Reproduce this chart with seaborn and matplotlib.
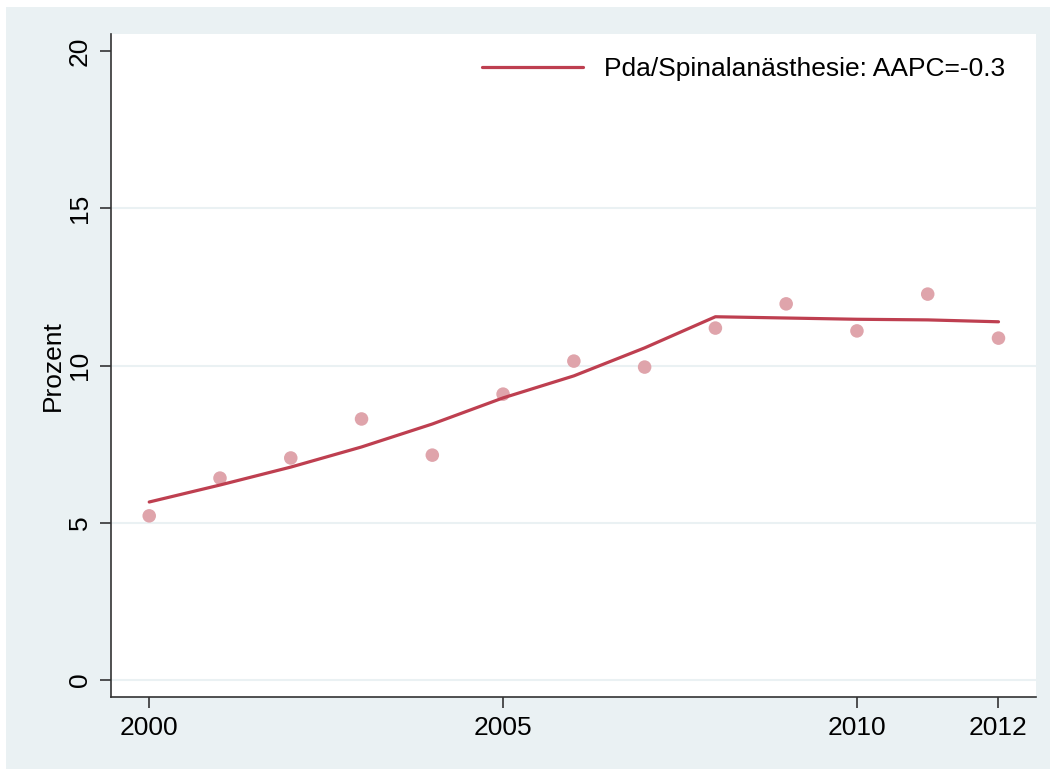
import numpy as np
import pandas as pd
import matplotlib
matplotlib.use("Agg")
import matplotlib.pyplot as plt
import seaborn as sns
from matplotlib.patches import Rectangle

sns.set_style("white")
plt.rcParams['font.family'] = ['Liberation Sans', 'DejaVu Sans']
plt.rcParams['text.color'] = 'black'
plt.rcParams['axes.labelcolor'] = 'black'
plt.rcParams['xtick.color'] = 'black'
plt.rcParams['ytick.color'] = 'black'

# Data
years = [2000, 2001, 2002, 2003, 2004, 2005, 2006, 2007, 2008, 2009, 2010, 2011, 2012]
observed = [5.22, 6.42, 7.06, 8.30, 7.15, 9.09, 10.14, 9.95, 11.19, 11.96, 11.10, 12.27, 10.87]
fitted = [5.66, 6.20, 6.77, 7.41, 8.14, 8.97, 9.67, 10.56, 11.55, 11.51, 11.47, 11.45, 11.39]
legend_label = "Pda/Spinalanästhesie: AAPC=-0.3"

df = pd.DataFrame({'year': years, 'observed': observed, 'fitted': fitted})

bg = '#EAF1F3'
line_col = '#BE3F50'
dot_col = '#DFA4AB'

fig = plt.figure(figsize=(10.5, 7.69), dpi=100)
fig.patch.set_facecolor('white')
fig.patches.append(Rectangle((6 / 1050, 0), 1 - 6 / 1050, 1 - 7 / 769,
                             transform=fig.transFigure, facecolor=bg,
                             edgecolor='none', zorder=-10))

ax = fig.add_axes([111 / 1050, 1 - 697 / 769, (1036 - 111) / 1050, (697 - 34) / 769])
ax.set_facecolor('white')

sns.scatterplot(data=df, x='year', y='observed', ax=ax, color=dot_col, s=95,
                edgecolor='none', zorder=3, label=None)
sns.lineplot(data=df, x='year', y='fitted', ax=ax, color=line_col, linewidth=2.3,
             zorder=4, label=legend_label)

ax.set_xlim(1999.46, 2012.53)
ax.set_ylim(-0.54, 20.54)
ax.set_xticks([2000, 2005, 2010, 2012])
ax.set_yticks([0, 5, 10, 15, 20])
for v in [0, 5, 10, 15]:
    ax.axhline(v, color=bg, linewidth=1.5, zorder=1)

ax.tick_params(axis='both', labelsize=19, length=8, width=1.2, color='#333333',
               labelcolor='black', direction='out', bottom=True, left=True)
for lab in ax.get_yticklabels():
    lab.set_rotation(90)
    lab.set_va('center')
ax.tick_params(axis='y', pad=6)
ax.tick_params(axis='x', pad=6)

ax.set_xlabel('')
ax.set_ylabel('Prozent', fontsize=19, labelpad=2, color='black')

for side in ['top', 'right']:
    ax.spines[side].set_visible(False)
for side in ['left', 'bottom']:
    ax.spines[side].set_color('#333333')
    ax.spines[side].set_linewidth(1.2)

leg = ax.legend(loc='upper right', bbox_to_anchor=(1005 / 1050, 1 - 57 / 769),
                bbox_transform=fig.transFigure, frameon=False, fontsize=19,
                handlelength=3.8, handletextpad=0.8, borderaxespad=0,
                borderpad=0)
for t in leg.get_texts():
    t.set_color('black')

fig.savefig('out.png', dpi=100)
